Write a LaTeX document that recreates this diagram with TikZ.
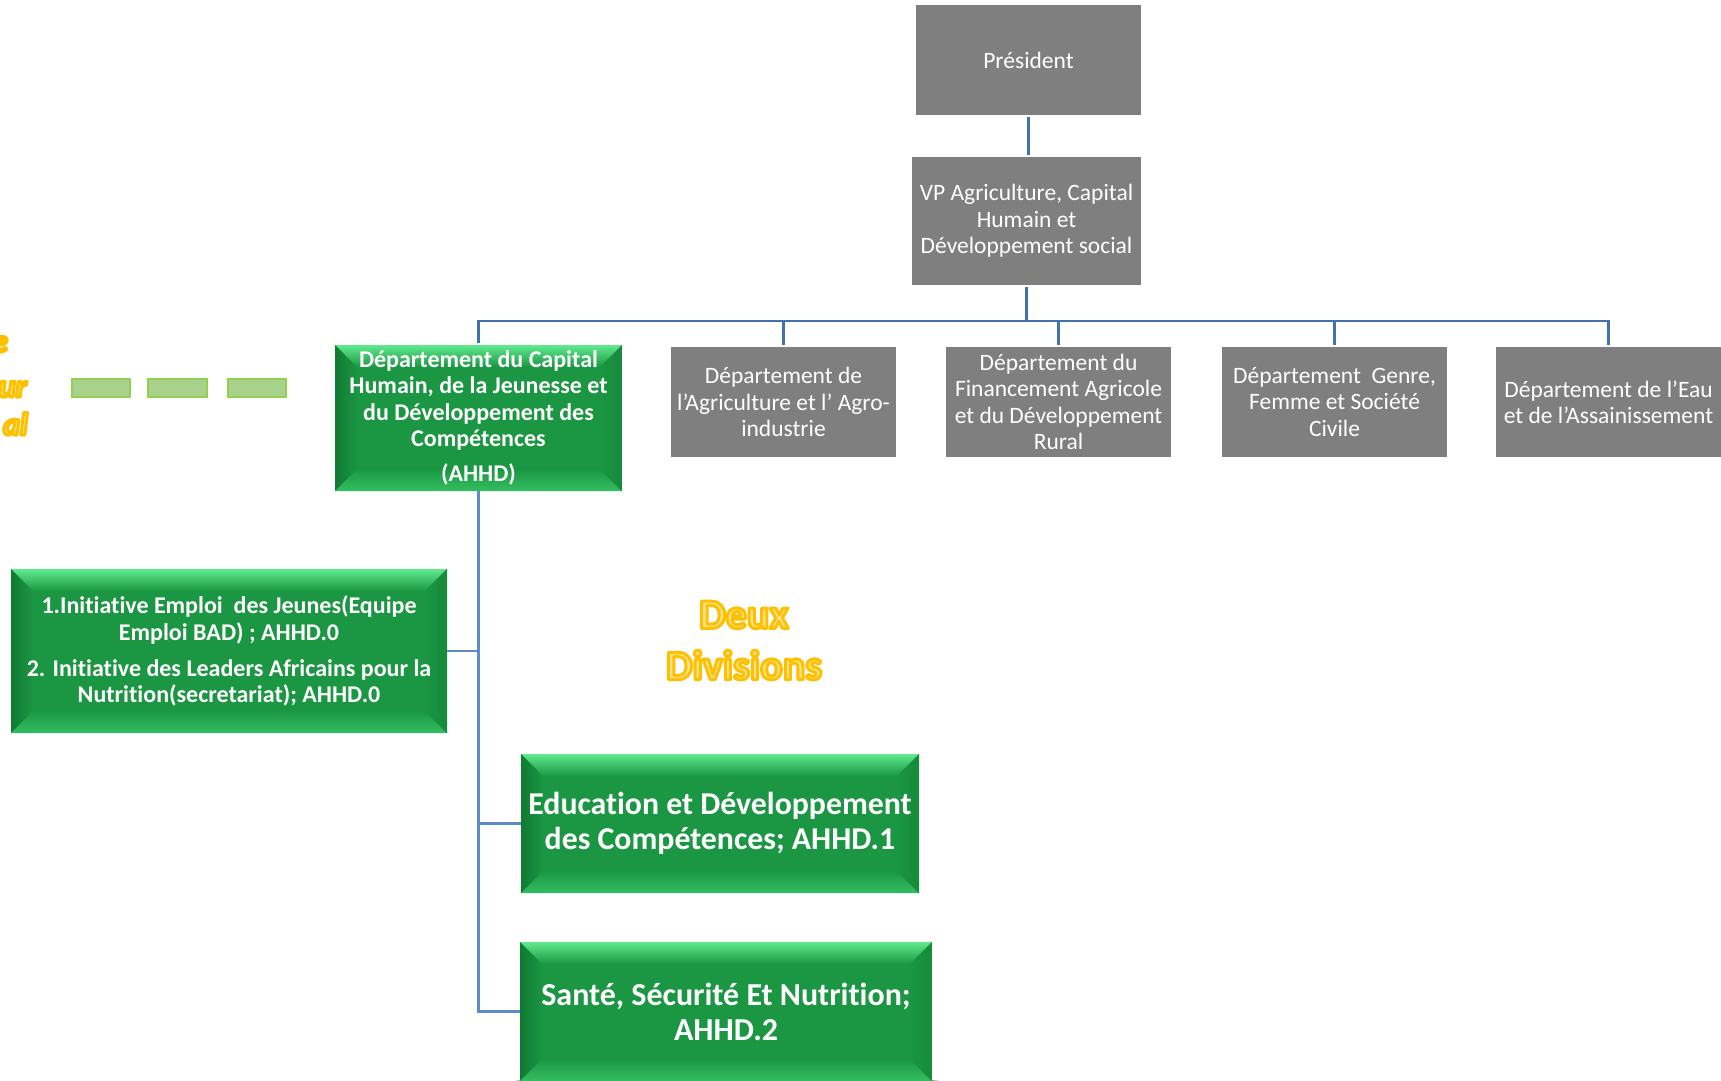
\documentclass[tikz,border=0pt]{standalone}
\usepackage{fontspec}
\setmainfont{Carlito}[Ligatures={NoCommon}]
\usetikzlibrary{calc,backgrounds}
\definecolor{boxgray}{RGB}{127,127,127}
\definecolor{lineA}{RGB}{66,114,172}
\definecolor{lineB}{RGB}{92,140,200}
\definecolor{gbase}{RGB}{27,150,67}
\definecolor{glight}{RGB}{96,234,142}
\definecolor{gdark}{RGB}{16,122,50}
\definecolor{gbot}{RGB}{52,190,98}
\definecolor{gright}{RGB}{22,138,58}
\definecolor{glowin}{RGB}{255,228,146}
\definecolor{dashfill}{RGB}{169,209,142}
\definecolor{dashline}{RGB}{146,208,80}
\newcommand\glowon{\special{pdf:literal direct 1 0.7529 0 RG 2 Tr 3 w 1 j}}
\newcommand\glowoff{\special{pdf:literal direct 0 Tr}}
\tikzset{
  connA/.style={draw=lineA, line width=2.6pt},
  connB/.style={draw=lineB, line width=2.4pt},
  graybox/.style={rectangle, fill=boxgray, text=white, align=center, inner sep=0pt,
    font=\fontsize{23.5}{26.3}\selectfont},
  greenbox/.style={rectangle, fill=gbase, text=white, align=center, inner sep=0pt,
    path picture={
      \path (path picture bounding box.south west) coordinate (sw)
            (path picture bounding box.north east) coordinate (ne)
            (path picture bounding box.north west) coordinate (nw)
            (path picture bounding box.south east) coordinate (se);
      \shade[top color=glight, bottom color=gbase]
        (nw) -- (ne) -- ($(ne)+(-22pt,-22pt)$) -- ($(nw)+(22pt,-22pt)$) -- cycle;
      \shade[left color=gdark, right color=gbase]
        (nw) -- (sw) -- ($(sw)+(22pt,22pt)$) -- ($(nw)+(22pt,-22pt)$) -- cycle;
      \shade[top color=gbase, bottom color=gbot]
        (sw) -- (se) -- ($(se)+(-22pt,22pt)$) -- ($(sw)+(22pt,22pt)$) -- cycle;
      \shade[left color=gbase, right color=gright]
        (se) -- (ne) -- ($(ne)+(-22pt,-22pt)$) -- ($(se)+(-22pt,22pt)$) -- cycle;
    }},
  glowtext/.style={text=glowin, inner sep=0pt},
  dashbox/.style={fill=dashfill, draw=dashline, line width=2.5pt},
}
\begin{document}
\begin{tikzpicture}[x=1pt,y=-1pt]
\useasboundingbox (0,0) rectangle (1721,1080);
\fill[white] (0,0) rectangle (1721,1080);

% top
\node[graybox, minimum width=225pt, minimum height=110pt] (pres) at (1028.5,60) {Président};
\node[graybox, minimum width=229pt, minimum height=128pt] (vp) at (1026.5,221)
  {VP Agriculture, Capital\\Humain et\\Développement social};

% departments
\node[greenbox, minimum width=287pt, minimum height=146pt,
  font=\bfseries\fontsize{24}{26.3}\selectfont] (ahhd) at (478.5,418)
  {Département du Capital\\Humain, de la Jeunesse et\\du Développement des\\Compétences\\[9pt](AHHD)};
\node[graybox, minimum width=225pt, minimum height=110pt] (agri) at (783.5,402)
  {Département de\\l’Agriculture et l’ Agro-\\industrie};
\node[graybox, minimum width=225pt, minimum height=110pt] (fin) at (1058.5,402)
  {Département du\\Financement Agricole\\et du Développement\\Rural};
\node[graybox, minimum width=225pt, minimum height=110pt] (genre) at (1334.5,402)
  {Département\ \ Genre,\\Femme et Société\\Civile};
\node[graybox, minimum width=225pt, minimum height=110pt] (eau) at (1608.5,402)
  {Département de l’Eau\\et de l’Assainissement};

% lower boxes
\node[greenbox, minimum width=436pt, minimum height=164pt,
  font=\bfseries\fontsize{24}{26.8}\selectfont] (init) at (229,651)
  {1.Initiative Emploi\ \ des Jeunes(Equipe\\Emploi BAD) ; AHHD.0\\[9pt]2. Initiative des Leaders Africains pour la\\Nutrition(secretariat); AHHD.0};
\node[greenbox, minimum width=398pt, minimum height=139pt,
  font=\bfseries\fontsize{31.8}{35}\selectfont] (edu) at (720,823.5)
  {Education et Développement\\des Compétences; AHHD.1};
\node[greenbox, minimum width=412pt, minimum height=139pt,
  font=\bfseries\fontsize{32}{35}\selectfont] (sante) at (726,1011.5)
  {Santé, Sécurité Et Nutrition;\\AHHD.2};

% shadows
\begin{scope}[on background layer]
  \foreach \n in {ahhd,init,edu,sante}{
    \foreach \i in {0,...,6}{
      \fill[black, opacity=0.07]
        ($(\n.south west)+(1pt,-6pt)+(-\i*1pt,-\i*1pt)$) rectangle
        ($(\n.north east)+(1pt,-6pt)+(\i*1pt,\i*1pt)$);
    }
  }
\end{scope}

% connectors
\coordinate (busy) at (0,321);
\draw[connA, shorten <=2pt, shorten >=2pt] (pres.south) -- (pres.south |- vp.north);
\draw[connA, shorten <=2pt] (vp.south) -- (vp.south |- busy);
\draw[connA, shorten <=2pt, shorten >=2pt] (ahhd.north) -- (ahhd.north |- busy) -- (eau.north |- busy) -- (eau.north);
\foreach \d in {agri,fin,genre}{
  \draw[connA, shorten >=2pt] (\d.north |- busy) -- (\d.north);
}
\draw[connB] (ahhd.south) -- (ahhd.south |- sante.west) -- (sante.west);
\draw[connB] (ahhd.south |- init.east) -- (init.east);
\draw[connB] (ahhd.south |- edu.west) -- (edu.west);

% dashed green link
\draw[dashbox] (72,379) rectangle (130,397);
\draw[dashbox] (148,379) rectangle (207,397);
\draw[dashbox] (228,379) rectangle (286,397);

% glowing labels
\node[glowtext, font=\bfseries\fontsize{42}{48}\selectfont] (deux) at (744,615) {\glowon Deux\glowoff};
\node[glowtext, font=\bfseries\fontsize{42}{48}\selectfont] (divisions) at (744,665) {\glowon Divisions\glowoff};
\node[glowtext, font=\bfseries\itshape\fontsize{32}{38}\selectfont, anchor=base east] (lt1) at (8,352) {\glowon e\glowoff};
\node[glowtext, font=\bfseries\itshape\fontsize{32}{38}\selectfont, anchor=base east] (lt2) at (27,397) {\glowon ur\glowoff};
\node[glowtext, font=\bfseries\itshape\fontsize{32}{38}\selectfont, anchor=base east] (lt3) at (28,435) {\glowon al\glowoff};
\end{tikzpicture}
\end{document}
